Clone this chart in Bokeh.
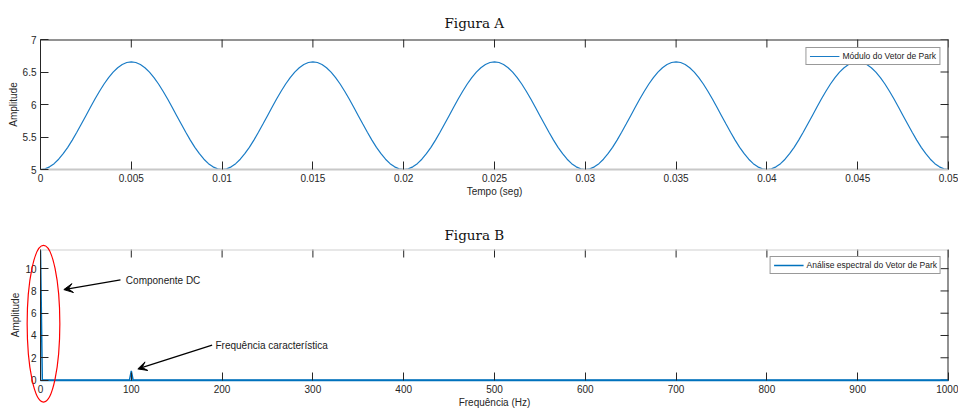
import numpy as np
from bokeh.plotting import figure
from bokeh.models import (FixedTicker, Range1d, Legend, LegendItem, Label, Arrow,
                          VeeHead, Span, GridBox, Column)
from bokeh.embed import file_html
from bokeh.resources import INLINE

# ---------------- data ----------------
# Figura A: módulo do vetor de Park, read every 0.00025 s
park_modulo = [
    5.000, 5.010, 5.041, 5.090, 5.158, 5.243, 5.341, 5.452, 5.572, 5.699, 5.828, 5.957, 6.084, 6.204, 6.315, 6.413, 6.498, 6.566, 6.615, 6.646,
    6.656, 6.646, 6.615, 6.566, 6.498, 6.413, 6.315, 6.204, 6.084, 5.957, 5.828, 5.699, 5.572, 5.452, 5.341, 5.243, 5.158, 5.090, 5.041, 5.010,
    5.000, 5.010, 5.041, 5.090, 5.158, 5.243, 5.341, 5.452, 5.572, 5.699, 5.828, 5.957, 6.084, 6.204, 6.315, 6.413, 6.498, 6.566, 6.615, 6.646,
    6.656, 6.646, 6.615, 6.566, 6.498, 6.413, 6.315, 6.204, 6.084, 5.957, 5.828, 5.699, 5.572, 5.452, 5.341, 5.243, 5.158, 5.090, 5.041, 5.010,
    5.000, 5.010, 5.041, 5.090, 5.158, 5.243, 5.341, 5.452, 5.572, 5.699, 5.828, 5.957, 6.084, 6.204, 6.315, 6.413, 6.498, 6.566, 6.615, 6.646,
    6.656, 6.646, 6.615, 6.566, 6.498, 6.413, 6.315, 6.204, 6.084, 5.957, 5.828, 5.699, 5.572, 5.452, 5.341, 5.243, 5.158, 5.090, 5.041, 5.010,
    5.000, 5.010, 5.041, 5.090, 5.158, 5.243, 5.341, 5.452, 5.572, 5.699, 5.828, 5.957, 6.084, 6.204, 6.315, 6.413, 6.498, 6.566, 6.615, 6.646,
    6.656, 6.646, 6.615, 6.566, 6.498, 6.413, 6.315, 6.204, 6.084, 5.957, 5.828, 5.699, 5.572, 5.452, 5.341, 5.243, 5.158, 5.090, 5.041, 5.010,
    5.000, 5.010, 5.041, 5.090, 5.158, 5.243, 5.341, 5.452, 5.572, 5.699, 5.828, 5.957, 6.084, 6.204, 6.315, 6.413, 6.498, 6.566, 6.615, 6.646,
    6.656, 6.646, 6.615, 6.566, 6.498, 6.413, 6.315, 6.204, 6.084, 5.957, 5.828, 5.699, 5.572, 5.452, 5.341, 5.243, 5.158, 5.090, 5.041, 5.010,
    5.000,
]
tempo_inicio, tempo_fim = 0.0, 0.05
tempo_seg = np.linspace(tempo_inicio, tempo_fim, len(park_modulo))

tempo_ticks = [0, 0.005, 0.01, 0.015, 0.02, 0.025, 0.03, 0.035, 0.04, 0.045, 0.05]
tempo_tick_labels = ["0", "0.005", "0.01", "0.015", "0.02", "0.025", "0.03", "0.035", "0.04", "0.045", "0.05"]
modulo_ticks = [5, 5.5, 6, 6.5, 7]
modulo_tick_labels = ["5", "5.5", "6", "6.5", "7"]

# Figura B: análise espectral
freq_hz = [0, 2, 98, 100, 102, 1000]
espectro_amp = [11.67, 0, 0, 0.83, 0, 0]
freq_ticks = [0, 100, 200, 300, 400, 500, 600, 700, 800, 900, 1000]
freq_tick_labels = ["0", "100", "200", "300", "400", "500", "600", "700", "800", "900", "1000"]
amp_ticks = [0, 2, 4, 6, 8, 10]
amp_tick_labels = ["0", "2", "4", "6", "8", "10"]

# ---------------- style ----------------
BLUE = "#0072BD"
BLUE_A = "#1a7cc6"
AX = "#262626"
FONT = "Liberation Sans"
TFONT = "DejaVu Serif"
W = 958
BORDER_L, BORDER_R = 40, 10


def style_axis(ax, ticks, labels, label):
    ax.ticker = FixedTicker(ticks=ticks)
    ax.major_label_overrides = {t: l for t, l in zip(ticks, labels)}
    ax.major_tick_in = 8
    ax.major_tick_out = 0
    ax.minor_tick_in = 0
    ax.minor_tick_out = 0
    ax.major_tick_line_color = AX
    ax.axis_line_color = AX
    ax.major_label_text_font = FONT
    ax.major_label_text_font_size = "10px"
    ax.major_label_text_color = AX
    ax.major_label_standoff = 4
    ax.axis_label = label
    ax.axis_label_standoff = 1
    ax.axis_label_text_font = FONT
    ax.axis_label_text_font_size = "10px"
    ax.axis_label_text_font_style = "normal"
    ax.axis_label_text_color = AX


def make_fig(title, height, top, bottom, xr, yr, xt, xl, yt, yl, xlabel, standoff,
             top_color):
    p = figure(width=W, height=height, x_range=xr, y_range=yr,
               output_backend="svg", toolbar_location=None,
               min_border_left=BORDER_L, min_border_right=BORDER_R,
               min_border_top=top, min_border_bottom=bottom, title=title)
    p.title.align = "left"
    p.title.offset = 404
    p.title.standoff = standoff
    p.title.text_font = TFONT
    p.title.text_font_size = "13.5px"
    p.title.text_font_style = "normal"
    p.title.text_color = "#111111"
    p.grid.visible = False
    p.outline_line_color = None
    p.background_fill_color = "white"
    p.border_fill_color = "white"
    xax, yax = p.xaxis[0], p.yaxis[0]
    style_axis(xax, xt, xl, xlabel)
    style_axis(yax, yt, yl, "Amplitude")
    # box: top and right edges
    p.add_layout(Span(location=yr.end, dimension="width", line_color=top_color, line_width=2))
    p.add_layout(Span(location=xr.end, dimension="height", line_color=AX, line_width=2))
    # mirrored inward ticks (half of each dash is clipped by the frame)
    p.scatter(x=xt, y=[yr.end] * len(xt), marker="dash", size=16, angle=np.pi / 2,
              line_color=AX, line_width=1)
    p.scatter(x=[xr.end] * len(yt), y=yt, marker="dash", size=16,
              line_color=AX, line_width=1)
    return p, xax, yax


def style_legend(lg, margin):
    lg.location = "top_right"
    lg.label_text_font = FONT
    lg.label_text_font_size = "8.5px"
    lg.label_text_color = "#1a1a1a"
    lg.glyph_width = 30
    lg.glyph_height = 8
    lg.label_height = 8
    lg.label_standoff = 3
    lg.padding = 3
    lg.spacing = 0
    lg.margin = margin
    lg.border_line_color = "#333333"
    lg.border_line_width = 1
    lg.background_fill_alpha = 1


# ---------------- Figura A ----------------
HA, TOP_A, BOT_A = 215, 39, 46
pA, xaxA, yaxA = make_fig("Figura A", HA, TOP_A, BOT_A,
                          Range1d(tempo_inicio, tempo_fim), Range1d(5, 7),
                          tempo_ticks, tempo_tick_labels, modulo_ticks, modulo_tick_labels,
                          "Tempo (seg)", 17, AX)
xaxA.axis_line_color = "#c8c8c8"
xaxA.axis_line_width = 2
rA = pA.line(tempo_seg, park_modulo, line_color=BLUE_A, line_width=1.2)
lgA = Legend(items=[LegendItem(label="Módulo do Vetor de Park", renderers=[rA])])
style_legend(lgA, 8)
pA.add_layout(lgA)

# ---------------- Figura B ----------------
HB, TOP_B, BOT_B = 195, 34, 29
xB0, xB1, yB0, yB1 = 0, 1000, -0.04, 11.72
pB, xaxB, yaxB = make_fig("Figura B", HB, TOP_B, BOT_B,
                          Range1d(xB0, xB1), Range1d(yB0, yB1),
                          freq_ticks, freq_tick_labels, amp_ticks, amp_tick_labels,
                          "Frequência (Hz)", 14, "#d0d0d0")
xaxB.axis_line_color = BLUE
xaxB.axis_line_width = 1.5
rB = pB.line(freq_hz, espectro_amp, line_color=BLUE, line_width=1.5)
lgB = Legend(items=[LegendItem(label="Análise espectral do Vetor de Park", renderers=[rB])])
style_legend(lgB, 7)
pB.add_layout(lgB)

# arrows and notes
pB.add_layout(Arrow(end=VeeHead(size=9, fill_color="black", line_color="black"),
                    x_start=88.1, y_start=9.0, x_end=25.7, y_end=8.12,
                    line_color="black", line_width=1.2))
pB.add_layout(Label(x=94, y=8.94, text="Componente DC", text_font=FONT,
                    text_font_size="10px", text_baseline="middle", text_color="#1a1a1a"))
pB.add_layout(Arrow(end=VeeHead(size=9, fill_color="black", line_color="black"),
                    x_start=189, y_start=3.14, x_end=107.2, y_end=1.0,
                    line_color="black", line_width=1.2))
pB.add_layout(Label(x=192.7, y=3.14, text="Frequência característica", text_font=FONT,
                    text_font_size="10px", text_baseline="middle", text_color="#1a1a1a"))

# transparent overlay on Figura B (same data scale over the whole canvas) so the red
# ellipse round the DC component may run past the axes, as in the reference
sx = (W - BORDER_L - BORDER_R) / (xB1 - xB0)
sy = (HB - TOP_B - BOT_B) / (yB1 - yB0)
pO = figure(width=W, height=HB, output_backend="svg", toolbar_location=None,
            x_range=Range1d(xB0 - BORDER_L / sx, xB1 + BORDER_R / sx),
            y_range=Range1d(yB0 - BOT_B / sy, yB1 + TOP_B / sy),
            x_axis_type=None, y_axis_type=None,
            min_border=0, min_border_left=0, min_border_right=0,
            min_border_top=0, min_border_bottom=0)
pO.grid.visible = False
pO.outline_line_color = None
pO.background_fill_color = None
pO.border_fill_color = None
pO.ellipse(x=3.3, y=5.1, width=36, height=13.96, fill_color=None,
           line_color="red", line_width=1.2)

# overlay sits in the same grid cell as Figura B, wrapped so its frame is not aligned
layout = GridBox(children=[(pA, 0, 0), (pB, 1, 0), (Column(children=[pO]), 1, 0)])
open("out.html", "w").write(file_html(layout, INLINE))
